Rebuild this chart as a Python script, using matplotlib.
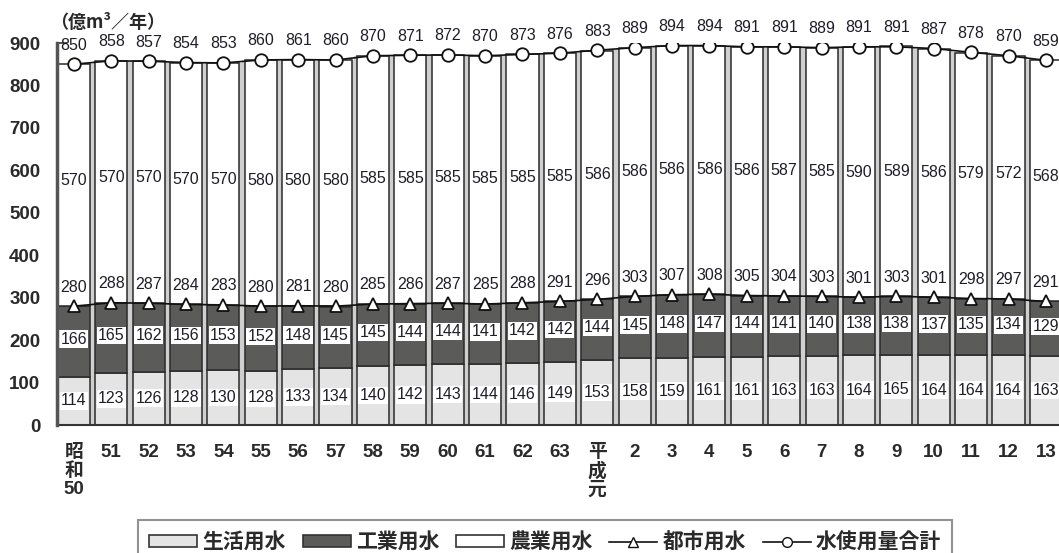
import matplotlib
matplotlib.use("Agg")
import matplotlib.pyplot as plt
import numpy as np
from matplotlib.patches import Patch
from matplotlib.lines import Line2D

plt.rcParams['font.family'] = ['Liberation Sans', 'Noto Sans CJK JP', 'DejaVu Sans']

years = ['昭\n和\n50', '51', '52', '53', '54', '55', '56', '57', '58', '59', '60', '61', '62', '63',
         '平\n成\n元', '2', '3', '4', '5', '6', '7', '8', '9', '10', '11', '12', '13']
domestic = [114, 123, 126, 128, 130, 128, 133, 134, 140, 142, 143, 144, 146, 149,
            153, 158, 159, 161, 161, 163, 163, 164, 165, 164, 164, 164, 163]
industrial = [166, 165, 162, 156, 153, 152, 148, 145, 145, 144, 144, 141, 142, 142,
              144, 145, 148, 147, 144, 141, 140, 138, 138, 137, 135, 134, 129]
urban = [280, 288, 287, 284, 283, 280, 281, 280, 285, 286, 287, 285, 288, 291,
         296, 303, 307, 308, 305, 304, 303, 301, 303, 301, 298, 297, 291]
agricultural = [570, 570, 570, 570, 570, 580, 580, 580, 585, 585, 585, 585, 585, 585,
                586, 586, 586, 586, 586, 587, 585, 590, 589, 586, 579, 572, 568]
total = [850, 858, 857, 854, 853, 860, 861, 860, 870, 871, 872, 870, 873, 876,
         883, 889, 894, 894, 891, 891, 889, 891, 891, 887, 878, 870, 859]

c_dom = '#e4e4e4'
c_ind = '#5b5b5a'
c_agr = '#ffffff'
txt = '#1e1e28'

fig = plt.figure(figsize=(10.59, 5.53), dpi=100)
ax = fig.add_axes([57/1059, 1-425/553, 1-57/1059, (425-43)/553])

x = np.arange(len(years))
dom = np.array(domestic)
ind = np.array(industrial)
urb = np.array(urban)
agr = np.array(agricultural)
tot = np.array(total)

# gray gap background
ax.bar(x, tot, width=1.0, color='#cfcfcf', edgecolor='none', zorder=1)
w = 0.86
ax.bar(x, dom, width=w, color=c_dom, edgecolor='#2a2a2a', linewidth=1.1, zorder=2)
ax.bar(x, ind, width=w, bottom=dom, color=c_ind, edgecolor='#2a2a2a', linewidth=1.1, zorder=2)
ax.bar(x, agr, width=w, bottom=urb, color=c_agr, edgecolor='#2a2a2a', linewidth=1.1, zorder=2)

ax.plot(x, urb, color='#111111', lw=1.2, marker='^', ms=8, mfc='white', mec='#111111', mew=1.3, zorder=5)
ax.plot(x, tot, color='#111111', lw=1.2, marker='o', ms=9, mfc='white', mec='#111111', mew=1.3, zorder=5)

fs = 11.5
bb = dict(boxstyle='square,pad=0.08', fc='white', ec='none')
for i in x:
    ax.text(i, dom[i] / 2, str(domestic[i]), ha='center', va='center', fontsize=fs, color=txt, bbox=bb, zorder=6)
    ax.text(i, dom[i] + ind[i] / 2 + 5, str(industrial[i]), ha='center', va='center', fontsize=fs, color=txt, bbox=bb, zorder=6)
    ax.text(i, urb[i] + 45, str(urban[i]), ha='center', va='center', fontsize=fs, color=txt, bbox=bb, zorder=6)
    ax.text(i, urb[i] + 295, str(agricultural[i]), ha='center', va='center', fontsize=fs, color=txt, bbox=bb, zorder=6)
    ax.text(i, tot[i] + 45, str(total[i]), ha='center', va='center', fontsize=fs, color=txt, zorder=6, clip_on=False)

ax.set_xlim(-0.45, 26.35)
ax.set_ylim(0, 900)
ax.set_yticks(range(0, 901, 100))
ax.set_xticks(x)
ax.set_xticklabels(years, fontsize=13.5, fontweight='bold', color='#2a2a2a', linespacing=1.05, va='top')
for t in ax.get_yticklabels():
    t.set_fontsize(13.5)
    t.set_fontweight('bold')
    t.set_color('#2a2a2a')
ax.tick_params(axis='y', direction='in', length=7, width=1.2, pad=12, color='#333333')
ax.tick_params(axis='x', length=0, pad=14)
for s in ['top', 'right']:
    ax.spines[s].set_visible(False)
ax.spines['left'].set_linewidth(2.5)
ax.spines['left'].set_color('#555555')
ax.spines['bottom'].set_linewidth(1.5)
ax.spines['bottom'].set_color('#333333')
ax.spines['left'].set_zorder(7)

fig.text(50/1059, 1-22/553, '（億m³／年）', fontsize=13, fontweight='bold', color='#2a2a2a',
         ha='left', va='center', family=['Noto Sans CJK JP', 'DejaVu Sans'])

handles = [
    Patch(facecolor=c_dom, edgecolor='#333333', linewidth=1.2),
    Patch(facecolor=c_ind, edgecolor='#333333', linewidth=1.2),
    Patch(facecolor=c_agr, edgecolor='#333333', linewidth=1.2),
    Line2D([], [], color='#111111', lw=1.2, marker='^', ms=7, mfc='white', mec='#111111'),
    Line2D([], [], color='#111111', lw=1.2, marker='o', ms=7, mfc='white', mec='#111111'),
]
labels = ['生活用水', '工業用水', '農業用水', '都市用水', '水使用量合計']
leg = fig.legend(handles, labels, loc='upper left', bbox_to_anchor=(138/1059, 1-520/553), ncol=5,
                 prop={'family': ['Noto Sans CJK JP'], 'size': 15, 'weight': 'bold'},
                 handlelength=2.3, handleheight=0.5, handletextpad=0.25, columnspacing=0.8,
                 frameon=True, fancybox=False, borderpad=0.55, borderaxespad=0)
leg.get_frame().set_edgecolor('#777777')
leg.get_frame().set_linewidth(1.5)
for t in leg.get_texts():
    t.set_color('#2a2a2a')

fig.savefig('out.png', dpi=100)
